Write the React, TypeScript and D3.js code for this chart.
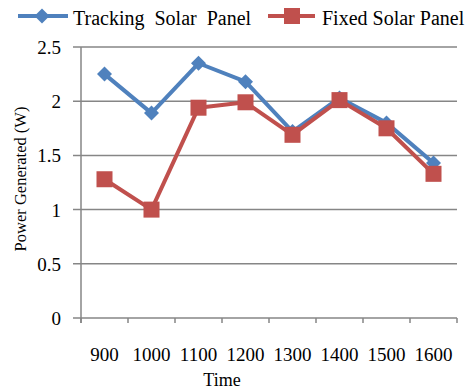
import React from "react";
import * as d3 from "d3";

const categories = ["900", "1000", "1100", "1200", "1300", "1400", "1500", "1600"];
const tracking = [2.25, 1.89, 2.35, 2.18, 1.72, 2.03, 1.8, 1.43];
const fixed = [1.28, 1.0, 1.94, 1.99, 1.69, 2.01, 1.75, 1.33];
const yTicks = [0, 0.5, 1, 1.5, 2, 2.5];

const BLUE = "#4F81BD";
const RED = "#C0504D";
const GRID = "#868686";
const FONT = "'Liberation Serif', 'Times New Roman', serif";

export default function App() {
  const W = 473, H = 390;
  const left = 81, right = 457, top = 47, bottom = 318;
  const x = d3.scaleBand<string>().domain(categories).range([left, right]);
  const y = d3.scaleLinear().domain([0, 2.5]).range([bottom, top]);
  const cx = (c: string) => (x(c) as number) + x.bandwidth() / 2;
  const line = d3.line<number>().x((_, i) => cx(categories[i])).y((d) => y(d));
  const diamond = (px: number, py: number, r: number) =>
    `M${px},${py - r}L${px + r},${py}L${px},${py + r}L${px - r},${py}Z`;

  return (
    <svg width={W} height={H} style={{ position: "absolute", left: 0, top: 0, background: "#fff" }} fontFamily={FONT}>
      {yTicks.map((t) => (
        <g key={t}>
          <line x1={left - 8} x2={right} y1={y(t)} y2={y(t)} stroke={GRID} strokeWidth={1.5} />
          <text x={61} y={y(t) + 7} textAnchor="end" fontSize={19} fill="#000">{t}</text>
        </g>
      ))}
      <line x1={left} x2={left} y1={top} y2={bottom + 5} stroke={GRID} strokeWidth={1.5} />
      {[...categories.map((c) => x(c) as number), right].map((v, i) => (
        <line key={i} x1={v} x2={v} y1={bottom} y2={bottom + 5} stroke={GRID} strokeWidth={1.5} />
      ))}
      {categories.map((c) => (
        <text key={c} x={cx(c)} y={361} textAnchor="middle" fontSize={19} fill="#000">{c}</text>
      ))}
      <text x={222} y={386} textAnchor="middle" fontSize={18} fill="#000">Time</text>
      <text transform="translate(26,179) rotate(-90)" textAnchor="middle" fontSize={16.5} fill="#000">Power Generated (W)</text>

      <path d={line(tracking) || ""} fill="none" stroke={BLUE} strokeWidth={4} strokeLinejoin="round" />
      {tracking.map((v, i) => (
        <path key={i} d={diamond(cx(categories[i]), y(v), 7.5)} fill={BLUE} />
      ))}
      <path d={line(fixed) || ""} fill="none" stroke={RED} strokeWidth={4} strokeLinejoin="round" />
      {fixed.map((v, i) => (
        <rect key={i} x={cx(categories[i]) - 8} y={y(v) - 8} width={16} height={16} fill={RED} />
      ))}

      <line x1={18} x2={68} y1={16} y2={16} stroke={BLUE} strokeWidth={4} />
      <path d={diamond(42, 16, 7.5)} fill={BLUE} />
      <text x={73} y={25} fontSize={20} wordSpacing={5} fill="#000">Tracking Solar Panel</text>
      <line x1={268} x2={315} y1={16} y2={16} stroke={RED} strokeWidth={4} />
      <rect x={284} y={8} width={16} height={16} fill={RED} />
      <text x={322} y={25} fontSize={20} fill="#000">Fixed Solar Panel</text>
    </svg>
  );
}
